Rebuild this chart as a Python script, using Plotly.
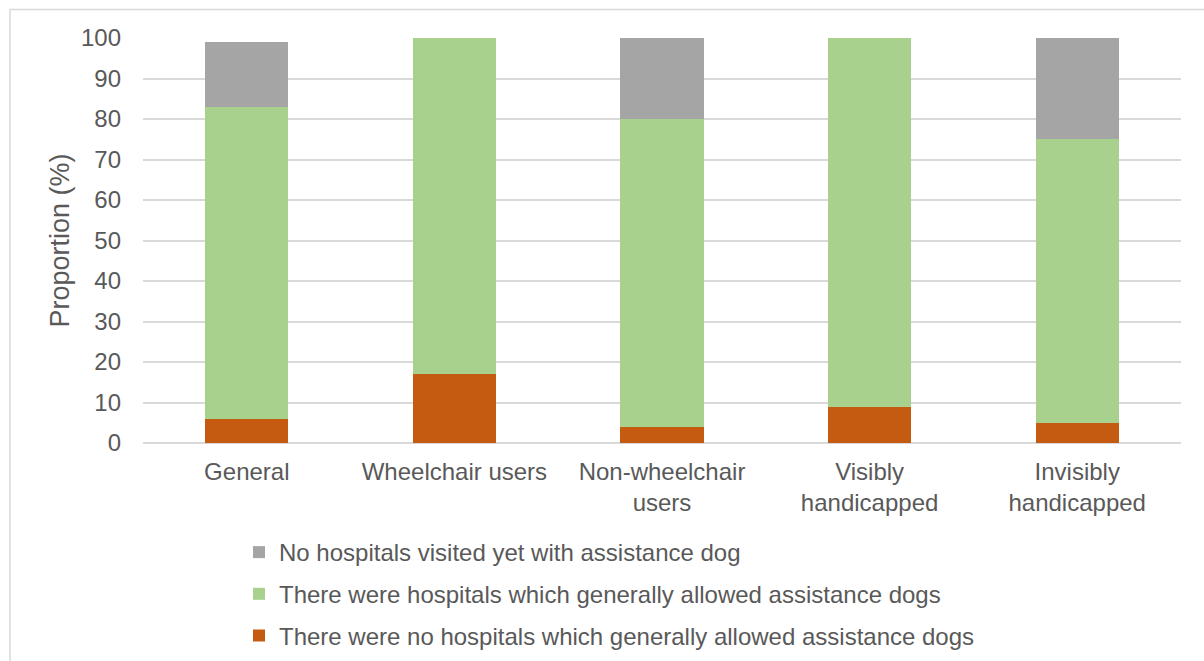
import plotly.graph_objects as go

categories = ["General", "Wheelchair users", "Non-wheelchair<br>users",
              "Visibly<br>handicapped", "Invisibly<br>handicapped"]
no_hospitals_allowed = [6, 17, 4, 9, 5]
hospitals_allowed = [77, 83, 76, 91, 70]
not_visited = [16, 0, 20, 0, 25]

# (name, values, colour, legend rank) — stacked bottom to top
series = [
    ("There were no hospitals which generally allowed assistance dogs", no_hospitals_allowed, "#C55A11", 3),
    ("There were hospitals which generally allowed assistance dogs", hospitals_allowed, "#A9D18E", 2),
    ("No hospitals visited yet with assistance dog", not_visited, "#A5A5A5", 1),
]

W, H = 1204, 661
L, R, T, B = 143, 23, 38, 218
pw, ph = W - L - R, H - T - B

fig = go.Figure()
for i, (name, vals, color, rank) in enumerate(series):
    fig.add_trace(go.Bar(
        x=categories, y=vals, name=name, marker_color=color,
        marker_line_width=0, legendgroup=f"g{i}", legendrank=rank,
    ))

text_color = "#595959"
font = "Liberation Sans, Arial, sans-serif"
fs = 24

def px_x(p):
    return (p - L) / pw

def px_y(p):
    return (H - B - p) / ph

fig.update_layout(
    width=W, height=H,
    margin=dict(l=L, r=R, t=T, b=B, pad=0, autoexpand=False),
    barmode="stack", bargap=0.6,
    plot_bgcolor="white", paper_bgcolor="white",
    font=dict(family=font, color=text_color, size=fs),
    showlegend=True,
    legend=dict(
        orientation="v", traceorder="grouped", tracegroupgap=7.5,
        x=px_x(239), y=px_y(530), xanchor="left", yanchor="top",
        font=dict(size=fs, color=text_color), bgcolor="rgba(0,0,0,0)",
    ),
    xaxis=dict(
        showgrid=False, showline=False, ticks="", automargin=False,
        ticklabelstandoff=12,
        tickfont=dict(size=fs, color=text_color),
    ),
    yaxis=dict(
        range=[0, 100], dtick=10, showgrid=True, gridcolor="#D9D9D9", gridwidth=1.5,
        zeroline=True, zerolinecolor="#D9D9D9", zerolinewidth=1.5,
        showline=False, ticks="", automargin=False, ticklabelstandoff=21,
        tickfont=dict(size=fs, color=text_color),
        title=dict(text="Proportion (%)", font=dict(size=27, color=text_color), standoff=3),
    ),
    shapes=[dict(
        type="rect", xref="paper", yref="paper",
        x0=px_x(10), x1=px_x(1215), y0=px_y(680), y1=px_y(9.5),
        line=dict(color="#D9D9D9", width=1.5), fillcolor="rgba(0,0,0,0)", layer="below",
    )],
)

fig.write_html("out.html")
